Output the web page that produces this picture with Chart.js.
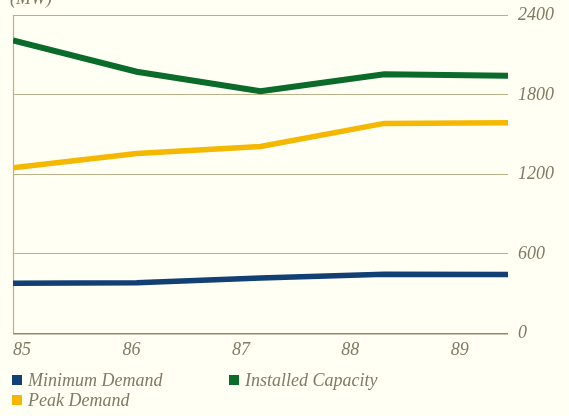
<!DOCTYPE html>
<html>
<head>
<meta charset="utf-8">
<script src="https://cdn.jsdelivr.net/npm/chart.js@4.4.1/dist/chart.umd.min.js"></script>
<style>
  html, body { margin: 0; padding: 0; background: #fffff3; }
  #wrap { width: 569px; height: 416px; position: relative; }
</style>
</head>
<body>
<div id="wrap"><canvas id="c" width="569" height="416"></canvas></div>
<script>
// Years (19xx) and electricity figures in MW
const years = [85, 86, 87, 88, 89];
const minimumDemand = [378, 383, 418, 446, 444];
const installedCapacity = [2212, 1975, 1828, 1955, 1945];
const peakDemand = [1250, 1358, 1410, 1585, 1590];
const yTicks = [0, 600, 1200, 1800, 2400];
const unitLabel = '(MW)';

const SERIF = "'Liberation Serif', 'DejaVu Serif', serif";
const INK = '#7f7b66';
const RULE = '#b8b18a';

const colors = {
  min: '#123f74',
  cap: '#0b6b2b',
  peak: '#f4b800'
};

const toPoints = vals => years.map((y, i) => ({ x: y, y: vals[i] }));

// Draws the unit caption and the two-column key underneath the plot
const decorations = {
  id: 'decorations',
  afterDraw(chart) {
    const ctx = chart.ctx;
    const area = chart.chartArea;
    ctx.save();
    ctx.font = 'italic 18px ' + SERIF;
    ctx.fillStyle = INK;
    ctx.textBaseline = 'alphabetic';
    ctx.textAlign = 'left';
    ctx.fillText(unitLabel, area.left - 3, 4);

    const order = [0, 1, 2];
    const cols = [area.left - 1, area.left + 216];
    const rows = [380, 400];
    order.forEach((di, k) => {
      const ds = chart.data.datasets[di];
      const x = cols[k % 2];
      const y = rows[Math.floor(k / 2)];
      ctx.fillStyle = ds.borderColor;
      ctx.fillRect(x, y - 5, 10, 10);
      ctx.fillStyle = INK;
      ctx.textBaseline = 'middle';
      ctx.fillText(ds.label, x + 16, y + 1);
    });
    ctx.restore();
  }
};

new Chart(document.getElementById('c'), {
  type: 'line',
  data: {
    datasets: [
      { label: 'Minimum Demand', data: toPoints(minimumDemand), borderColor: colors.min, backgroundColor: colors.min, borderWidth: 5.5 },
      { label: 'Installed Capacity', data: toPoints(installedCapacity), borderColor: colors.cap, backgroundColor: colors.cap, borderWidth: 6 },
      { label: 'Peak Demand', data: toPoints(peakDemand), borderColor: colors.peak, backgroundColor: colors.peak, borderWidth: 5.5 }
    ]
  },
  options: {
    responsive: false,
    animation: false,
    events: [],
    layout: { padding: { left: 13, right: 5, top: 0, bottom: 49 } },
    elements: {
      point: { radius: 0 },
      line: { tension: 0, borderCapStyle: 'butt', borderJoinStyle: 'miter' }
    },
    plugins: {
      legend: { display: false },
      tooltip: { enabled: false }
    },
    scales: {
      x: {
        type: 'linear',
        min: years[0],
        max: years[years.length - 1],
        display: false
      },
      // year captions sit on their own scale, spaced a little tighter than the plotted years
      xLabels: {
        type: 'linear',
        position: 'bottom',
        min: 84.917,
        max: 89.441,
        afterBuildTicks(scale) {
          scale.ticks = years.map(v => ({ value: v }));
        },
        grid: { display: false, drawTicks: false },
        border: { display: false },
        ticks: {
          autoSkip: false,
          maxRotation: 0,
          padding: 6,
          color: INK,
          font: { family: SERIF, style: 'italic', size: 18 },
          callback: v => String(v)
        }
      },
      y: {
        position: 'right',
        min: 0,
        max: 2400,
        afterBuildTicks(scale) {
          scale.ticks = yTicks.map(v => ({ value: v }));
        },
        grid: {
          color: ctx => ctx.tick && ctx.tick.value === 0 ? '#8e8a6c' : RULE,
          lineWidth: ctx => ctx.tick && ctx.tick.value === 0 ? 1.6 : 1,
          drawTicks: false
        },
        border: { display: false },
        ticks: {
          padding: 10,
          color: INK,
          font: { family: SERIF, style: 'italic', size: 18, lineHeight: 0.6 },
          callback: v => String(v)
        }
      }
    }
  },
  plugins: [decorations, {
    id: 'leftRule',
    beforeDatasetsDraw(chart) {
      const { ctx, chartArea: a } = chart;
      ctx.save();
      ctx.strokeStyle = RULE;
      ctx.lineWidth = 1.2;
      ctx.beginPath();
      ctx.moveTo(a.left + 0.5, a.top);
      ctx.lineTo(a.left + 0.5, a.bottom);
      ctx.stroke();
      ctx.restore();
    }
  }]
});
</script>
</body>
</html>
